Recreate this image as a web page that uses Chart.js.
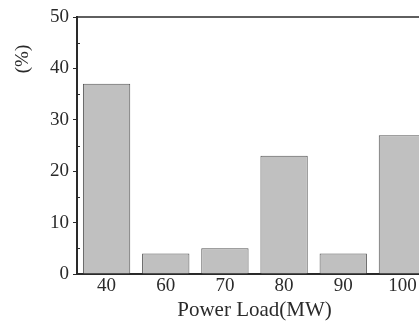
<!DOCTYPE html>
<html>
<head>
<meta charset="utf-8">
<script src="https://cdn.jsdelivr.net/npm/chart.js@4"></script>
<style>
  html, body { margin: 0; padding: 0; background: #fff; overflow: hidden; width: 419px; height: 326px; }
  #wrap { position: relative; width: 432px; height: 326px; }
</style>
</head>
<body>
<div id="wrap"><canvas id="c" width="432" height="326"></canvas></div>
<script>
// chart data
const loads = ["40", "60", "70", "80", "90", "100"];
const shares = [37, 4, 5, 23, 4, 27];
const yTicks = [0, 10, 20, 30, 40, 50];
const yMinor = [5, 15, 25, 35, 45];

const INK = "#2a2a2a";
const FONT = "Liberation Serif";

// frame, minor ticks and rotated y label
const framePlugin = {
  id: "frame",
  afterDraw(chart) {
    const { ctx, chartArea: a, scales: { y } } = chart;
    ctx.save();
    ctx.strokeStyle = INK;
    ctx.lineWidth = 1.5;
    ctx.beginPath();
    ctx.moveTo(a.left, a.top); ctx.lineTo(a.right + 10, a.top);
    ctx.stroke();
    ctx.lineWidth = 1;
    yMinor.forEach(v => {
      const py = Math.round(y.getPixelForValue(v)) + 0.5;
      ctx.beginPath(); ctx.moveTo(a.left, py); ctx.lineTo(a.left + 3, py); ctx.stroke();
    });
    ctx.fillStyle = INK;
    ctx.font = `19px "${FONT}"`;
    ctx.translate(23, 59);
    ctx.rotate(-Math.PI / 2);
    ctx.textAlign = "center";
    ctx.textBaseline = "middle";
    ctx.fillText("(%)", 0, 0);
    ctx.restore();
  }
};

new Chart(document.getElementById("c"), {
  type: "bar",
  data: {
    labels: loads,
    datasets: [{
      data: shares,
      backgroundColor: "#c0c0c0",
      borderColor: "#555",
      borderWidth: 1,
      categoryPercentage: 1,
      barPercentage: 0.8,
    }]
  },
  options: {
    responsive: false,
    animation: false,
    layout: { padding: { left: 0, top: 17, right: 0, bottom: 0 } },
    plugins: { legend: { display: false }, tooltip: { enabled: false } },
    scales: {
      x: {
        grid: { display: false, drawTicks: false },
        border: { display: true, color: INK, width: 2 },
        ticks: { color: INK, font: { family: FONT, size: 19 }, padding: 1 },
        title: { display: true, text: "Power Load(MW)", color: INK, font: { family: FONT, size: 21 }, padding: { top: 2, bottom: 3 } },
        afterFit(s) { s.height = 52; }
      },
      y: {
        min: 0, max: 50,
        afterBuildTicks(s) { s.ticks = yTicks.map(v => ({ value: v })); },
        grid: { drawOnChartArea: false, drawTicks: true, tickLength: 4, color: INK },
        border: { display: true, color: INK, width: 2 },
        ticks: { color: INK, font: { family: FONT, size: 19 }, padding: 4 },
        afterFit(s) { s.width = 77; }
      }
    }
  },
  plugins: [framePlugin],
});
</script>
</body>
</html>
